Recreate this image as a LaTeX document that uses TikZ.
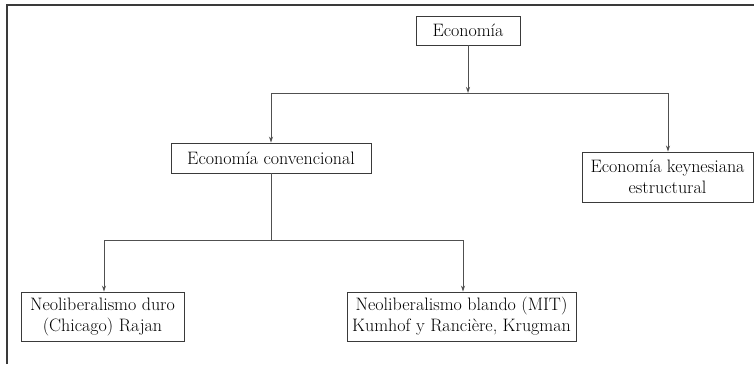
\documentclass[tikz,border=0pt]{standalone}
\usetikzlibrary{arrows.meta}
\definecolor{linegray}{HTML}{505050}
\definecolor{framegray}{HTML}{3A3A3A}
\tikzset{
  box/.style={draw=framegray, line width=0.9pt, align=center, inner sep=1pt,
    font=\fontsize{18}{21}\selectfont, text=black},
  conn/.style={draw=linegray, line width=0.9pt},
  arr/.style={conn, -{Stealth[length=6pt,width=4pt]}},
}
\begin{document}
\begin{tikzpicture}[x=1pt,y=-1pt]
\useasboundingbox (0,0) rectangle (754,364);
% frame (only top and left edges visible)
\draw[framegray, line width=1.6pt] (7,364) -- (7,5) -- (754,5);
% nodes
\node[box, minimum width=104pt, minimum height=29pt] (eco) at (468,30.5) {Economía};
\node[box, minimum width=200pt, minimum height=30pt] (conv) at (271,158) {Economía convencional};
\node[box, minimum width=171pt, minimum height=50pt] (keyn) at (667.5,177) {Economía keynesiana\\estructural};
\node[box, minimum width=163pt, minimum height=49pt] (duro) at (102.5,316.5) {Neoliberalismo duro\\(Chicago) Rajan};
\node[box, minimum width=229pt, minimum height=49pt] (blando) at (461.5,316.5) {Neoliberalismo blando (MIT)\\Kumhof y Rancière, Krugman};
% junction coordinates
\coordinate (j1) at (468,93);
\coordinate (j1l) at (271,93);
\coordinate (j1r) at (668,93);
\coordinate (j2) at (271,240);
\coordinate (j2l) at (104,240);
\coordinate (j2r) at (463,240);
% connectors
\draw[arr] (eco.south) -- (j1);
\draw[conn] (j1l) -- (j1r);
\draw[arr] (j1l) -- (conv.north);
\draw[arr] (j1r) -- (keyn.north -| j1r);
\draw[conn] (conv.south) -- (j2);
\draw[conn] (j2l) -- (j2r);
\draw[arr] (j2l) -- (duro.north -| j2l);
\draw[arr] (j2r) -- (blando.north -| j2r);
\end{tikzpicture}
\end{document}
